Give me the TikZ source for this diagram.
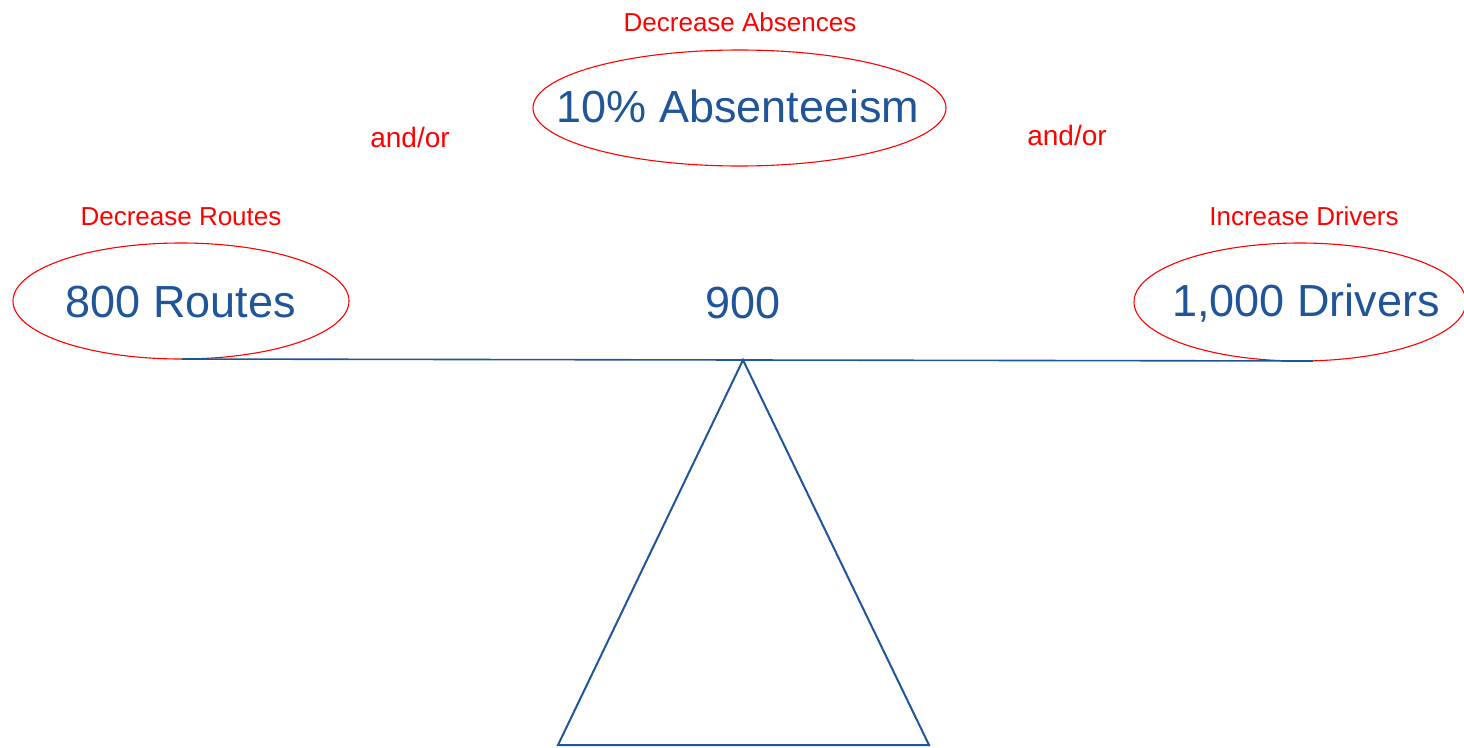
\documentclass[tikz,border=0pt]{standalone}
\usepackage{fontspec}
\setmainfont{Liberation Sans}
\usepackage{xcolor}
\usetikzlibrary{shapes.geometric}

\definecolor{scaleblue}{RGB}{32,86,153}
\definecolor{notered}{RGB}{255,0,0}

\begin{document}
\begin{tikzpicture}[x = 1pt, y = -1pt,
		bigtxt/.style = {text = scaleblue, font = \fontsize{45}{50}\selectfont, anchor = base, inner sep = 0pt},
		notetxt/.style = {text = notered, font = \fontsize{26}{30}\selectfont, anchor = base, inner sep = 0pt},
		oval/.style = {ellipse, draw = notered, line width = 1.1pt, fill = white, inner sep = 0pt},
		balance/.style = {draw = scaleblue, line width = 2pt, line join = miter}]
					\useasboundingbox (0,0) rectangle (1464,747);

					\begin{scope}
						\coordinate (beamL) at (182,359);
						\coordinate (beamR) at (1313,361);
						\coordinate (pivot) at (743,360);
						\coordinate (baseL) at (558,745);
						\coordinate (baseR) at (929,745);
					\end{scope}

					\begin{scope}
						\node [oval, minimum width = 336, minimum height = 116] (routesOval) at (181,301) {};
						\node [oval, minimum width = 413, minimum height = 116] (absOval) at (739.5,108) {};
						\node [oval, minimum width = 332, minimum height = 118] (driversOval) at (1300,302) {};
					\end{scope}

					\begin{scope}
						\draw [balance, line width = 1.6pt] (beamL) -- (beamR);
						\draw [balance] (pivot) -- (baseR) -- (baseL) -- cycle;
					\end{scope}

					\begin{scope}
						\node [bigtxt] (routes) at (181,317) {800 Routes};
						\node [bigtxt] (absent) at (738,122) {10\% Absenteeism};
						\node [bigtxt] (drivers) at (1306,316) {1,000 Drivers};
						\node [bigtxt] (target) at (743,318) {900};
					\end{scope}

					\begin{scope}
						\node [notetxt] (decAbs) at (740,31) {Decrease Absences};
						\node [notetxt] (decRoutes) at (181,225) {Decrease Routes};
						\node [notetxt] (incDrivers) at (1304,225) {Increase Drivers};
						\node [notetxt, font = \fontsize{28}{32}\selectfont] (andorL) at (410,147) {and/or};
						\node [notetxt, font = \fontsize{28}{32}\selectfont] (andorR) at (1067,145) {and/or};
					\end{scope}
				\end{tikzpicture}
\end{document}
